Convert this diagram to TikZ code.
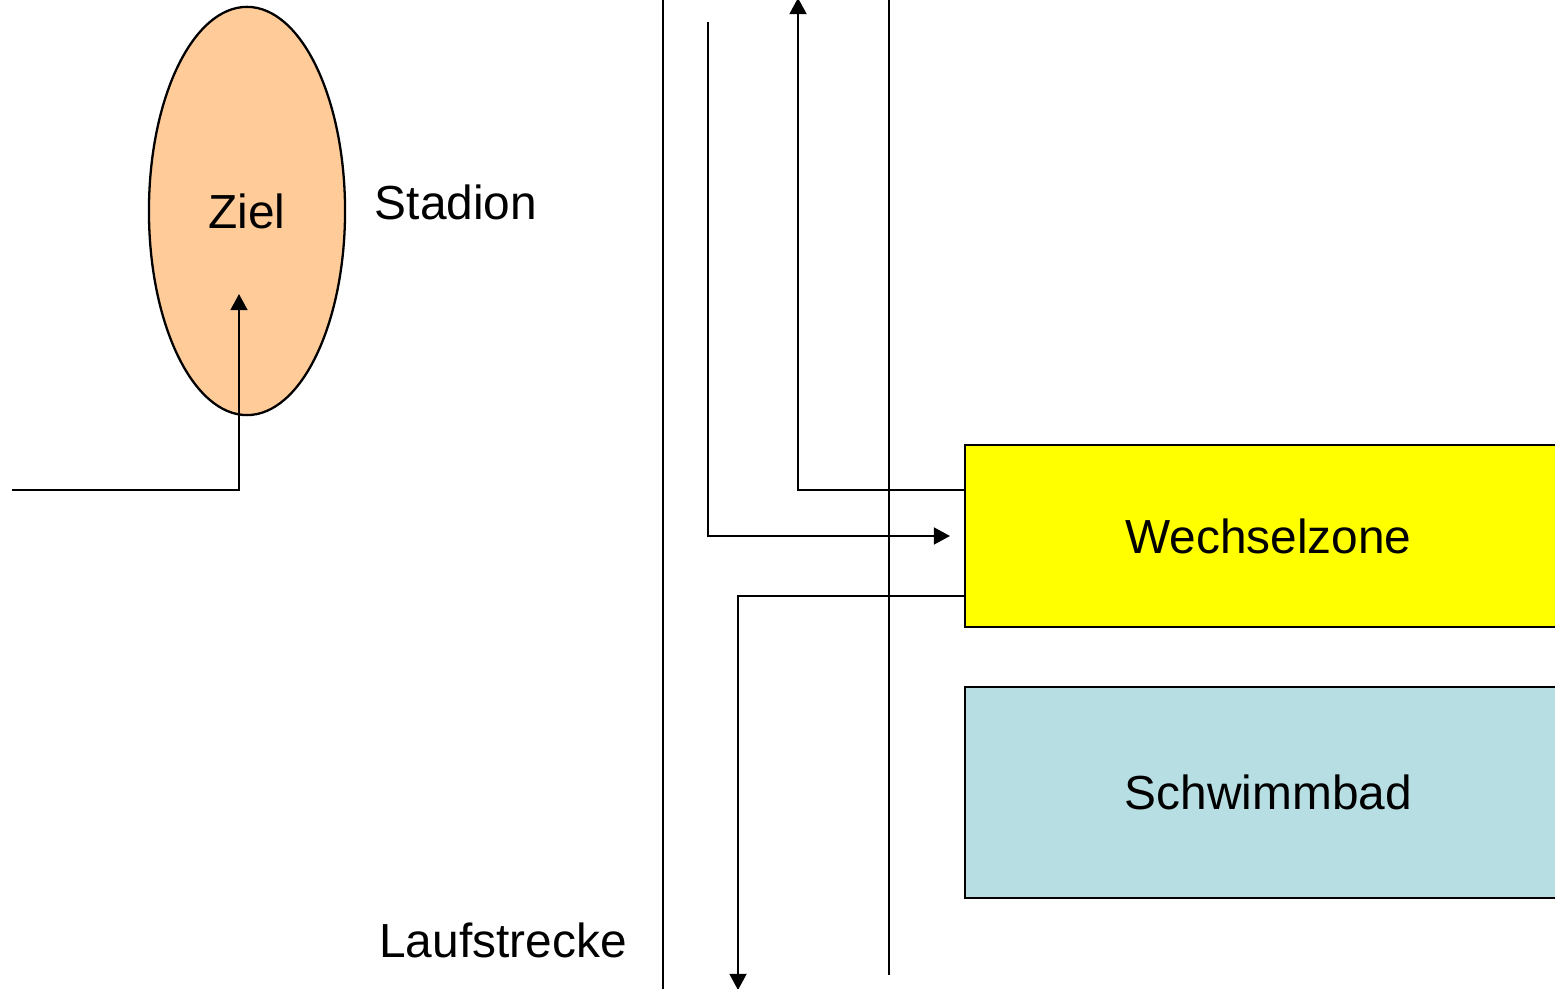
\documentclass[tikz,border=0pt]{standalone}
\usepackage{fontspec}
\setmainfont{Liberation Sans}
\usetikzlibrary{arrows.meta, shapes.geometric, positioning}

\definecolor{zielfill}{HTML}{FFCC99}
\definecolor{wechselfill}{HTML}{FFFF00}
\definecolor{poolfill}{HTML}{B7DFE3}

\begin{document}
\begin{tikzpicture}[
  x=0.01cm, y=-0.01cm,
  zone/.style={rectangle, draw, line width=0.65pt, minimum width=6.06cm, inner sep=0pt, font=\fontsize{13.6}{16}\selectfont},
  ziel/.style={ellipse, draw, line width=0.65pt, fill=zielfill, minimum width=1.96cm, minimum height=4.08cm, inner sep=0pt, font=\fontsize{13.6}{16}\selectfont},
  txt/.style={font=\fontsize{13.6}{16}\selectfont, inner sep=0pt},
  track/.style={line width=0.65pt},
  route/.style={line width=0.65pt, -{Triangle[length=4.6pt, width=4.8pt]}},
]
\useasboundingbox (0,0) rectangle (1555,989);

% Stadion
\node[ziel] (z) at (247,211) {Ziel};
\node[txt] (stadion) at (456,202) {Stadion};
\node[txt] (lauf) at (503,940) {Laufstrecke};

% Zonen
\node[zone, fill=wechselfill, minimum height=1.82cm, anchor=west] (wz) at (964,536) {Wechselzone};
\node[zone, fill=poolfill, minimum height=2.11cm, anchor=west] (sb) at (964,792.5) {Schwimmbad};

% Strecken
\draw[track] (663,0) -- (663,989);
\draw[track] (889,0) -- (889,975);

% Wege
\coordinate (inZiel) at (12,490);
\coordinate (zielTip) at (239,294);
\coordinate (radIn) at (708,22);
\coordinate (wzTip) at (950,536);
\coordinate (radOut) at (798,-2);
\coordinate (laufOut) at (738,990);

\draw[route] (inZiel) -| (zielTip);
\draw[route] (radIn) |- (wzTip);
\draw[route] (wz.west |- 0,490) -| (radOut);
\draw[route] (wz.west |- 0,596) -| (laufOut);
\end{tikzpicture}
\end{document}
